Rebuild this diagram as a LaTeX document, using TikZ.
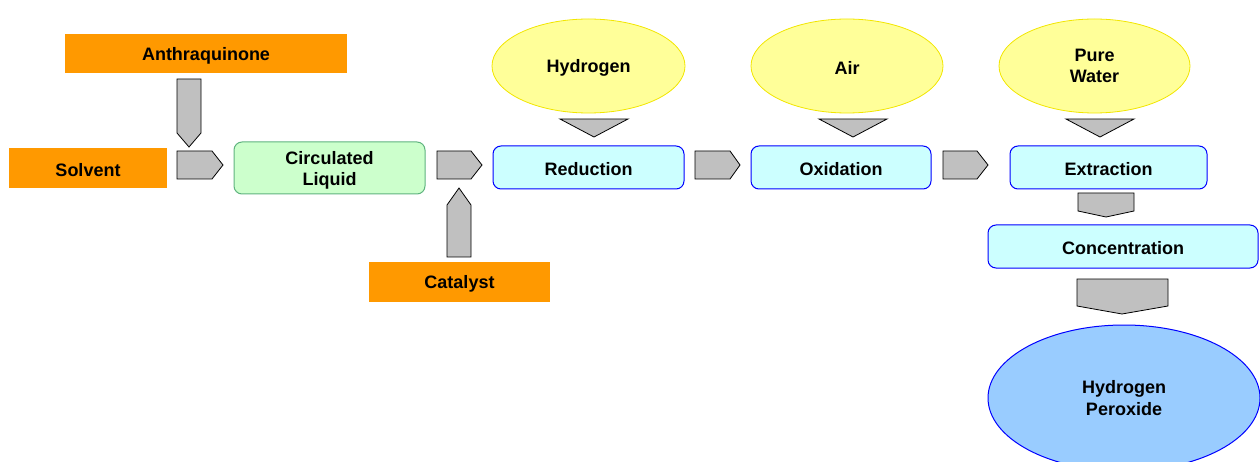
\documentclass[tikz,border=0pt]{standalone}
\usepackage{fontspec}
\setmainfont{Liberation Sans}
\usetikzlibrary{shapes.geometric}

\definecolor{feedorange}{HTML}{FF9900}
\definecolor{circfill}{HTML}{CCFFCC}
\definecolor{circline}{HTML}{5FB37F}
\definecolor{stepfill}{HTML}{CCFFFF}
\definecolor{gasfill}{HTML}{FFFF99}
\definecolor{gasline}{HTML}{F2E600}
\definecolor{prodfill}{HTML}{99CCFF}
\definecolor{chevgray}{HTML}{C0C0C0}

\tikzset{
    feed/.style={fill=feedorange, inner sep=0pt, minimum height=40pt},
    process/.style={draw=blue, line width=1pt, fill=stepfill, rounded corners=8pt, inner sep=0pt, minimum height=43pt},
    gas/.style={ellipse, draw=gasline, line width=0.8pt, fill=gasfill, inner sep=0pt, minimum width=193pt, minimum height=94pt, align=center},
    chev/.style={draw=black, fill=chevgray, line width=0.8pt, line join=miter}
}

\begin{document}
\begin{tikzpicture}[x=1pt, y=-1pt, font=\fontsize{18}{21.5}\selectfont\bfseries,
        execute at begin node={\rule{0pt}{17pt}}]
    \clip (0,0) rectangle (1260,462);

    % feed materials
    \node[feed, minimum width=282pt, minimum height=39pt] (anthra) at (206,53.5) {Anthraquinone};
    \node[feed, minimum width=158pt] (solvent) at (88,168) {Solvent};
    \node[feed, minimum width=181pt] (catalyst) at (459.5,282) {Catalyst};

    % process steps
    \node[draw=circline, line width=1pt, fill=circfill, rounded corners=8pt, inner sep=0pt, minimum width=191pt, minimum height=52pt, align=center] (circ) at (329.5,168) {\rule{0pt}{17.5pt}Circulated\\Liquid};
    \node[process, minimum width=191pt] (reduction) at (588.5,167.5) {Reduction};
    \node[process, minimum width=180pt] (oxidation) at (841,167.5) {Oxidation};
    \node[process, minimum width=197pt] (extraction) at (1108.5,167.5) {Extraction};
    \node[process, minimum width=270pt] (conc) at (1123,246.5) {Concentration};

    % gases and water
    \node[gas] (hydrogen) at (588.5,66) {Hydrogen};
    \node[gas, minimum width=192pt] (air) at (847,66) {Air};
    \node[gas, minimum width=191pt] (water) at (1094.5,66) {Pure\\Water};

    % product
    \node[ellipse, draw=blue, line width=1pt, fill=prodfill, inner sep=0pt, minimum width=272pt, minimum height=146pt, align=center] (perox) at (1124,398) {Hydrogen\\Peroxide};

    % block arrows
    \draw[chev] (177,79) -- (201,79) -- (201,133) -- (189,147) -- (177,133) -- cycle;
    \draw[chev] (177,151) -- (212,151) -- (223,165) -- (212,179) -- (177,179) -- cycle;
    \draw[chev] (437,151) -- (471,151) -- (482,165) -- (471,179) -- (437,179) -- cycle;
    \draw[chev] (447,257) -- (447,205) -- (459,188) -- (471,205) -- (471,257) -- cycle;
    \draw[chev] (695,151) -- (730,151) -- (740,165) -- (730,179) -- (695,179) -- cycle;
    \draw[chev] (943,151) -- (977,151) -- (988,165) -- (977,179) -- (943,179) -- cycle;
    \draw[chev] (1078,193) -- (1134,193) -- (1134,211) -- (1106,217) -- (1078,211) -- cycle;
    \draw[chev] (1077,279) -- (1168,279) -- (1168,306) -- (1122,314) -- (1077,306) -- cycle;

    % feed triangles
    \draw[chev] (560,119) -- (628,119) -- (594,137) -- cycle;
    \draw[chev] (819,119) -- (887,119) -- (853,137) -- cycle;
    \draw[chev] (1066,119) -- (1134,119) -- (1100,137) -- cycle;
\end{tikzpicture}
\end{document}
